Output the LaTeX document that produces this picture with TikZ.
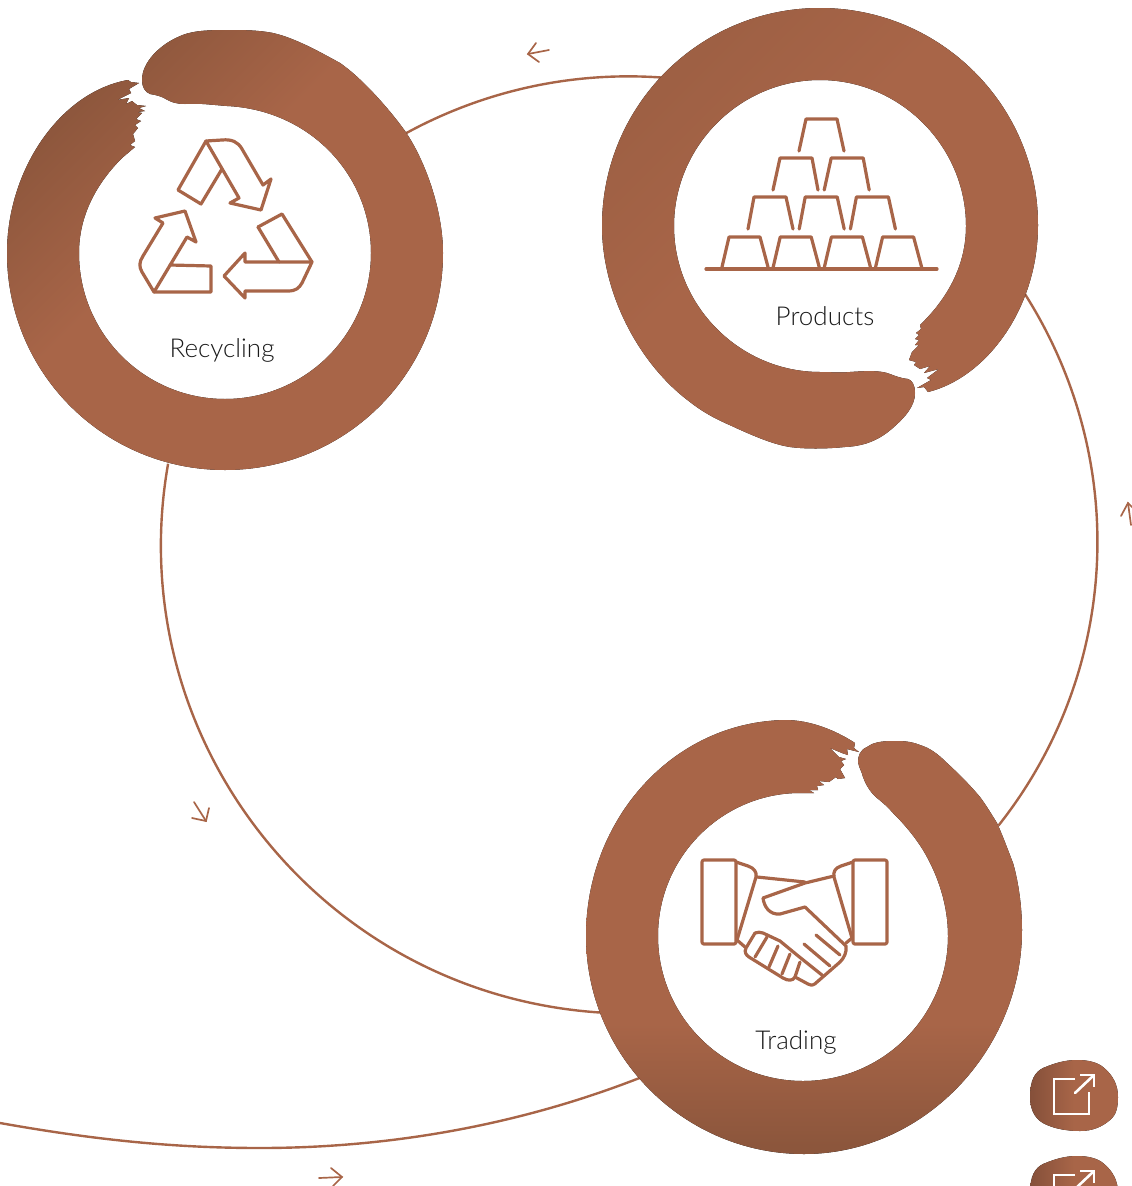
\documentclass[tikz,border=0pt]{standalone}
\usepackage{fontspec}
\setmainfont{Liberation Sans}
\newfontfamily\labelfont{Lato Light}
\usetikzlibrary{calc}
\definecolor{ringL}{HTML}{A86548}
\definecolor{ringD}{HTML}{8C563C}
\definecolor{ringM}{HTML}{9E6044}
\definecolor{ringB}{HTML}{85503A}
\definecolor{inkT}{HTML}{1A1A1A}
\pgfdeclarehorizontalshading{fadeRec}{100bp}{color(0bp)=(ringD);color(25bp)=(ringD);color(44bp)=(ringL);color(100bp)=(ringL)}
\pgfdeclarehorizontalshading{fadePro}{100bp}{color(0bp)=(ringM);color(26bp)=(ringM);color(44bp)=(ringL);color(100bp)=(ringL)}
\pgfdeclarehorizontalshading{fadeTra}{100bp}{color(0bp)=(ringD);color(26bp)=(ringD);color(40bp)=(ringL);color(100bp)=(ringL)}
\pgfdeclarehorizontalshading{fadeBtn}{100bp}{color(0bp)=(ringB);color(25bp)=(ringB);color(50bp)=(ringL);color(100bp)=(ringL)}
\tikzset{
  connector/.style={draw=ringL,line width=2.4pt},
  flowarrow/.style={draw=ringL,line width=1.7pt,line cap=round,line join=miter},
  iconline/.style={draw=ringL,line width=3.2pt,line join=round,line cap=round},
  label/.style={text=inkT,font=\labelfont\fontsize{26}{30}\selectfont,inner sep=0pt},
  pics/linkbutton/.style={code={
    \fill[shading=fadeBtn,shading angle=0] (1030,1097) .. controls (1030,1080) and (1035,1072) .. (1043,1068)
      .. controls (1055,1063) and (1065,1060) .. (1077,1060) .. controls (1090,1060) and (1098,1063) .. (1103,1067)
      .. controls (1113,1075) and (1118,1085) .. (1118,1097) .. controls (1118,1108) and (1116,1115) .. (1110,1120)
      .. controls (1102,1127) and (1092,1131) .. (1080,1131) .. controls (1065,1131) and (1052,1128) .. (1043,1123)
      .. controls (1034,1118) and (1030,1108) .. cycle;
    \draw[white,line width=2.6pt] (1075,1079) -- (1054,1079) -- (1054,1114) -- (1089,1114) -- (1089,1092);
    \draw[white,line width=2.6pt,line cap=round] (1075,1093) -- (1094,1075);
    \draw[white,line width=2.6pt] (1080,1075) -- (1094,1075) -- (1094,1087);
  }}
}
\begin{document}
\begin{tikzpicture}[x=1pt,y=-1pt]
\useasboundingbox (0,0) rectangle (1132,1186);
\clip (0,0) rectangle (1132,1186);

% connectors end points, hidden under the rings
\coordinate (recOut) at (405.5,133.5);
\coordinate (proIn) at (661,77.5);
\coordinate (proOut) at (1024.9,294);
\coordinate (traIn) at (998.5,825.5);
\coordinate (traOut) at (603,1012.7);
\coordinate (recIn) at (168.1,463.7);
\coordinate (offLeft) at (0,1123);
\coordinate (traLow) at (642,1077);

\draw[connector] (recOut) .. controls (484.3,90.4) and (572.4,71.3) .. (proIn);
\draw[connector] (proOut) .. controls (1130.5,460.3) and (1120,672) .. (traIn);
\draw[connector] (traOut) .. controls (322.3,996) and (119.5,739.5) .. (recIn);
\draw[connector] (offLeft) .. controls (90,1139) and (170,1148) .. (260,1148) .. controls (390,1148) and (520,1125) .. (traLow);

% small direction arrows
\draw[flowarrow] (549,50) -- (528,54);
\draw[flowarrow] (536,43) -- (528,54) -- (539,62);
\draw[flowarrow] (1131,525) -- (1128,503);
\draw[flowarrow] (1121,516) -- (1128,503) -- (1139,514);
\draw[flowarrow] (194,802) -- (206,821);
\draw[flowarrow] (192,818) -- (206,821) -- (209,808);
\draw[flowarrow] (319,1178) -- (342,1177);
\draw[flowarrow] (331,1168) -- (342,1177) -- (333,1186);

% Recycling ring
\fill[shading=fadeRec,shading angle=-45]
  (128,80) .. controls (60,92) and (7,170) .. (7,253)
  .. controls (7,373.4) and (104.6,470) .. (225,470)
  .. controls (345.4,470) and (443,373.4) .. (443,253)
  .. controls (443,210) and (425,160) .. (405,131)
  .. controls (390,110) and (362,78) .. (340,63)
  .. controls (320,52) and (295,38) .. (273,33)
  .. controls (258,30) and (242,30) .. (227,30)
  .. controls (205,30) and (190,31) .. (178,37)
  .. controls (160,45) and (142,62) .. (142,80)
  .. controls (142,87) and (145,92) .. (150,94)
  .. controls (156,95) and (160,96) .. (164,98)
  .. controls (172,103) and (178,104) .. (185,104)
  .. controls (200,103) and (213,105) .. (227,106)
  .. controls (310,110) and (371,175) .. (371,253)
  .. controls (371,333.6) and (305.6,399) .. (225,399)
  .. controls (144.4,399) and (79,333.6) .. (79,253)
  .. controls (79,215) and (97,183) .. (122,158)
  -- (135,147) -- (130,145) -- (135,141) -- (133,134) -- (138,128) -- (135,125) -- (141,121)
  -- (136,119) -- (142,113) -- (137,112) -- (145,111) -- (139,108) -- (146,106) -- (137,105)
  -- (132,101) -- (126,104) -- (129,98) -- (117,100) -- (131,93) -- (129,89) -- (139,83) -- (131,82) -- cycle;

% Products ring
\fill[shading=fadePro,shading angle=-45]
  (928,392) .. controls (985,378) and (1038,310) .. (1038,225)
  .. controls (1038,105) and (940,8) .. (820,8)
  .. controls (700,8) and (602,105) .. (602,226)
  .. controls (602,295) and (640,365) .. (690,402)
  .. controls (700,410) and (712,417) .. (723,422)
  .. controls (745,432) and (770,444) .. (790,447)
  .. controls (805,449) and (825,449) .. (845,447)
  .. controls (865,446) and (880,440) .. (895,426)
  .. controls (905,417) and (915,406) .. (915,393)
  .. controls (915,385) and (912,380) .. (908,379)
  .. controls (900,378) and (895,376) .. (890,374)
  .. controls (880,370) and (865,371) .. (850,372)
  .. controls (840,373) and (832,372) .. (820,372)
  .. controls (740,372) and (674,306) .. (674,226)
  .. controls (674,146) and (740,80) .. (820,80)
  .. controls (900,80) and (966,146) .. (966,226)
  .. controls (966,265) and (948,298) .. (920,325)
  -- (921,329) -- (916,333) -- (919,335) -- (915,339) -- (919,340) -- (915,345) -- (919,345)
  -- (912,352) -- (909,360) -- (916,362) -- (914,365) -- (920,369) -- (930,366) -- (924,373)
  -- (939,369) -- (927,378) -- (931,380) -- (917,388) -- (924,387) -- cycle;

% Trading ring
\fill[shading=fadeTra,shading angle=90]
  (855,743) .. controls (835,730) and (810,720) .. (785,720)
  .. controls (672,722) and (586,820) .. (586,936)
  .. controls (586,1056) and (684,1154) .. (804,1154)
  .. controls (924,1154) and (1022,1050) .. (1022,930)
  .. controls (1022,905) and (1018,880) .. (1013,863)
  .. controls (1008,850) and (1002,834) .. (997,823)
  .. controls (992,815) and (986,805) .. (980,797)
  .. controls (970,785) and (958,773) .. (947,763)
  .. controls (938,754) and (930,748) .. (920,745)
  .. controls (910,741) and (902,741) .. (893,741)
  .. controls (880,741) and (872,743) .. (867,747)
  .. controls (860,750) and (858,756) .. (858,762)
  .. controls (859,768) and (862,772) .. (863,777)
  .. controls (866,785) and (870,792) .. (877,798)
  .. controls (882,802) and (888,807) .. (893,813)
  .. controls (902,822) and (913,834) .. (923,850)
  .. controls (938,875) and (948,905) .. (948,936)
  .. controls (948,1016) and (883,1081) .. (803,1081)
  .. controls (723,1081) and (658,1016) .. (658,936)
  .. controls (658,856) and (723,793) .. (800,793)
  -- (814,793) -- (809,790) -- (818,790) -- (817,786) -- (824,785) -- (819,781) -- (829,782) -- (836,777)
  -- (838,779) -- (845,778) -- (840,769) -- (844,765) -- (841,761) -- (846,759) -- (839,757)
  -- (830,748) -- (842,753) -- (848,755) -- (847,749) -- (859,752) -- (854,748) -- cycle;

% recycling icon
\draw[iconline] (206,141) -- (222,140) .. controls (232,139) and (238,142) .. (242,149) -- (263,185) -- (271,179) -- (261,210) -- (230,203) -- (239,198) -- cycle;
\draw[iconline] (206,141) -- (178,190) -- (201,204) -- (222,169);
\draw[iconline] (185,211) -- (155,218) -- (163,223) -- (143,256) .. controls (139,262) and (139,267) .. (142,272) -- (154,292) -- (187,237) -- (196,242) -- cycle;
\draw[iconline] (154,292) -- (211,292) -- (211,266) -- (170,265);
\draw[iconline] (258,227) -- (282,214) -- (312,262);
\draw[iconline] (258,227) -- (279,262);
\draw[iconline] (312,262) -- (245,262) -- (245,253) -- (224,276) -- (245,298) -- (245,291) -- (288,291) .. controls (296,291) and (299,288) .. (302,283) -- cycle;

% gold bars icon
\draw[iconline] (706,269) -- (937,269);
\foreach \dx in {0,51.2,102.4,153.6}
  \draw[iconline] ($(722,267)+(\dx,0)$) -- ($(729,237)+(\dx,0)$) -- ($(760,237)+(\dx,0)$) -- ($(768,267)+(\dx,0)$);
\foreach \dx in {0,51.2,102.4}
  \draw[iconline] ($(748,229)+(\dx,0)$) -- ($(754,197)+(\dx,0)$) -- ($(786,197)+(\dx,0)$) -- ($(793,229)+(\dx,0)$);
\foreach \dx in {0,51.2}
  \draw[iconline] ($(773,190)+(\dx,0)$) -- ($(780,158)+(\dx,0)$) -- ($(812,158)+(\dx,0)$) -- ($(818,190)+(\dx,0)$);
\draw[iconline] (799,151) -- (806,119) -- (837,119) -- (844,151);

% handshake icon
\draw[iconline,rounded corners=2pt] (702,860) rectangle (736,944);
\draw[iconline,rounded corners=2pt] (853,860) rectangle (887,944);
\draw[iconline] (736,862) -- (748,866) .. controls (754,868) and (757,872) .. (756,877) -- (737,940);
\draw[iconline] (853,862) -- (841,866) .. controls (835,868) and (833,872) .. (834,877) -- (852,938);
\draw[iconline] (757,877) -- (805,882);
\draw[iconline] (834,876) -- (805,883) -- (763,898) .. controls (764,906) and (769,915) .. (780,914) -- (805,907) -- (846,946)
  .. controls (847,952) and (844,958) .. (840,962) -- (817,982) .. controls (814,985) and (812,986) .. (808,984) -- (795,977);
\draw[iconline] (737,940) -- (745,947);
\draw[iconline] (846,943) -- (852,938);
\draw[iconline] (755,933) .. controls (758,932) and (760,932) .. (763,933) -- (780,941) -- (797,955) -- (822,975);
\draw[iconline] (755,933) -- (746,948) .. controls (744,952) and (746,955) .. (749,957) -- (783,978) .. controls (788,981) and (793,981) .. (795,977) -- (800,962);
\draw[iconline] (767,937) -- (755,957);
\draw[iconline] (778,946) -- (769,967);
\draw[iconline] (790,954) -- (782,974);
\draw[iconline] (804,944) -- (830,966);
\draw[iconline] (816,935) -- (840,955);

% labels
\node[label] (recLabel) at (222,350) {Recycling};
\node[label] (proLabel) at (825,316) {Products};
\node[label] (traLabel) at (796,1042) {Trading};

% link buttons
\pic at (0,0) {linkbutton};
\pic at (0,96) {linkbutton};
\end{tikzpicture}
\end{document}
